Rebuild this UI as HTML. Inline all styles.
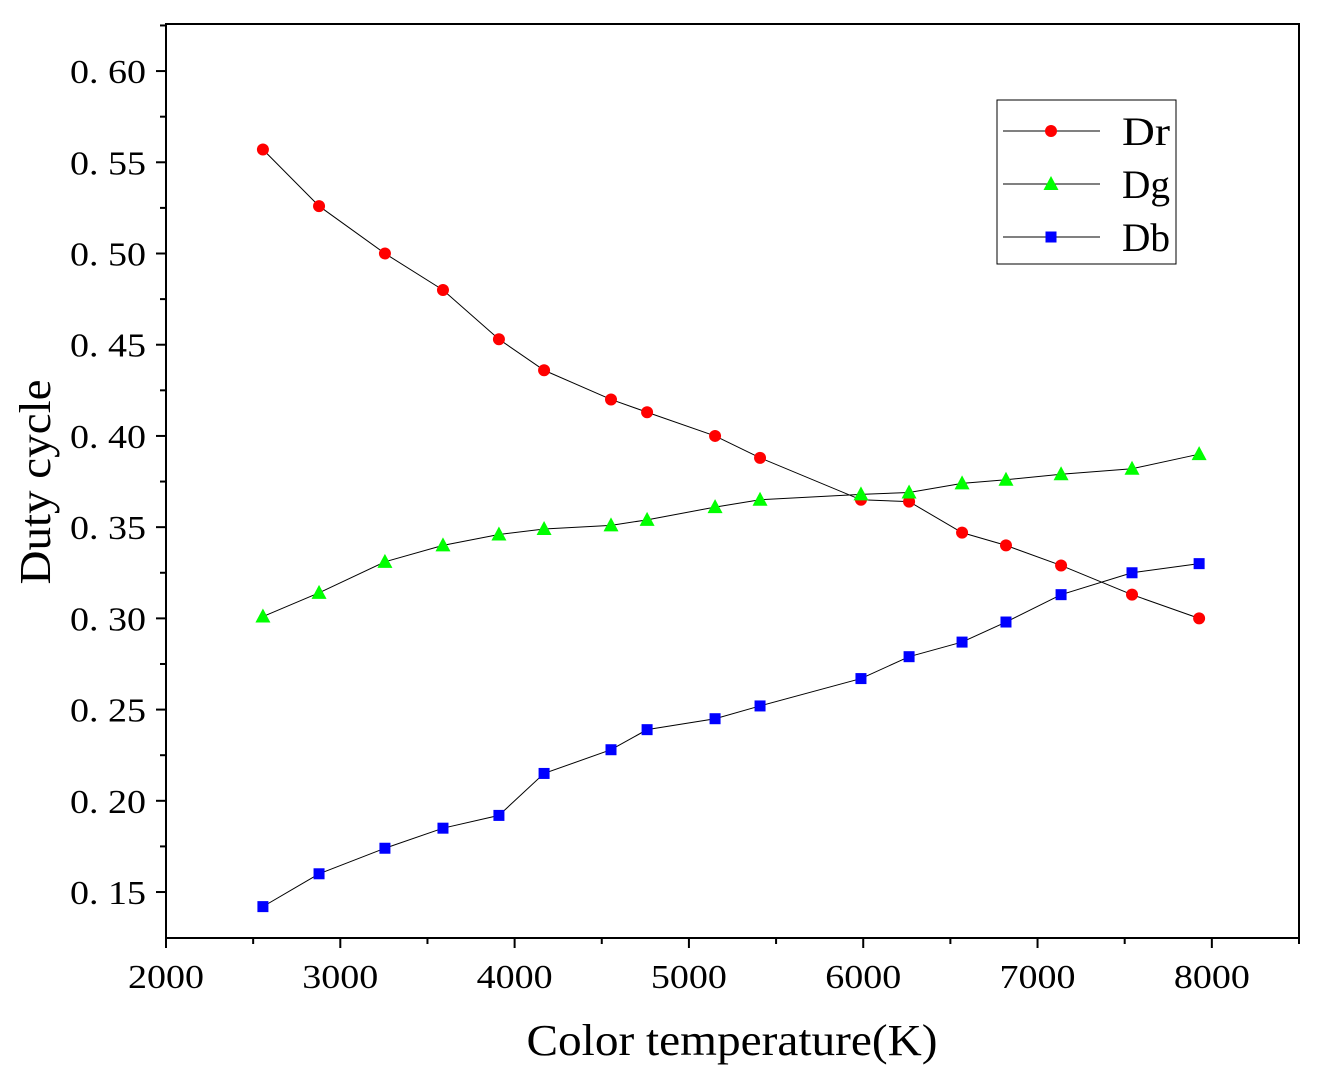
<!DOCTYPE html>
<html><head><meta charset="utf-8"><style>
body{margin:0;background:#fff}
svg{display:block;font-family:"Liberation Serif","Noto Serif CJK SC",serif}
</style></head><body>
<svg id="chart" width="1325" height="1076"></svg>
<script>
const temps=[2556,2878,3256,3589,3910,4169,4553,4760,5150,5408,5987,6263,6567,6819,7135,7542,7927];
const dr=[0.557,0.526,0.500,0.480,0.453,0.436,0.420,0.413,0.400,0.388,0.365,0.364,0.347,0.340,0.329,0.313,0.300];
const dg=[0.301,0.314,0.331,0.340,0.346,0.349,0.351,0.354,0.361,0.365,0.368,0.369,0.374,0.376,0.379,0.382,0.390];
const db=[0.142,0.160,0.174,0.185,0.192,0.215,0.228,0.239,0.245,0.252,0.267,0.279,0.287,0.298,0.313,0.325,0.330];
const xTicks=[2000,3000,4000,5000,6000,7000,8000];
const yTicks=[0.15,0.20,0.25,0.30,0.35,0.40,0.45,0.50,0.55,0.60];
const NS="http://www.w3.org/2000/svg";
const svg=document.getElementById('chart');
const L=166,R=1299,T=24,B=938;
const X=v=>L+(v-2000)/6500*(R-L);
const Y=v=>B-(v-0.1248)/(0.6258-0.1248)*(B-T);
function mk(t,a,p){const e=document.createElementNS(NS,t);for(const k in a)e.setAttribute(k,a[k]);(p||svg).appendChild(e);return e;}
const frame=mk('rect',{x:L,y:T,width:R-L,height:B-T,fill:'none',stroke:'#000','stroke-width':2});


for(let v=2000;v<=8500;v+=500){const maj=v%1000===0;mk('line',{x1:X(v),x2:X(v),y1:B,y2:B+(maj?10:6),stroke:'#000','stroke-width':2});}
for(let i=0;i<=20;i++){const v=0.15+i*0.025;if(Y(v)<T)break;const maj=i%2===0;mk('line',{x1:L,x2:L-(maj?10:6),y1:Y(v),y2:Y(v),stroke:'#000','stroke-width':2});}
xTicks.forEach(v=>{const t=mk('text',{x:X(v),y:B+50,'font-size':34,'text-anchor':'middle',textLength:76,lengthAdjust:'spacingAndGlyphs'});t.textContent=v;

});
yTicks.forEach(v=>{const t=mk('text',{x:146,y:Y(v)+12,'font-size':34,'text-anchor':'end',textLength:76,lengthAdjust:'spacingAndGlyphs'});t.textContent=v.toFixed(2).replace('.','. ');

});
const xt=mk('text',{x:732,y:1055,'font-size':44,'text-anchor':'middle',textLength:411,lengthAdjust:'spacingAndGlyphs'});xt.textContent='Color temperature(K)';


const yt=mk('text',{x:50,y:482,'font-size':44,'text-anchor':'middle',textLength:205,lengthAdjust:'spacingAndGlyphs',transform:'rotate(-90 50 482)'});yt.textContent='Duty cycle';


function marker(type,cx,cy,color,g){
 if(type==='c')return mk('circle',{cx,cy,r:6,fill:color},g);
 if(type==='t')return mk('polygon',{points:`${cx},${cy-8} ${cx-7.5},${cy+6} ${cx+7.5},${cy+6}`,fill:color},g);
 return mk('rect',{x:cx-5.5,y:cy-5.5,width:11,height:11,fill:color},g);
}
const series=[[dr,'#ff0000','c','Dr'],[dg,'#00ff00','t','Dg'],[db,'#0000ff','s','Db']];
series.forEach(([d,c,m,n],si)=>{
 const g=mk('g',{});
 
 
 mk('polyline',{points:temps.map((t,i)=>X(t)+','+Y(d[i])).join(' '),fill:'none',stroke:'#000','stroke-width':1},g);
 temps.forEach((t,i)=>{const p=marker(m,X(t),Y(d[i]),c,g);
 
 });
});
const lg=mk('g',{});


mk('rect',{x:997,y:100,width:179,height:164,fill:'#fff',stroke:'#000','stroke-width':1},lg);
series.forEach(([d,c,m,n],i)=>{const y=131+i*53;
 mk('line',{x1:1003,x2:1100,y1:y,y2:y,stroke:'#000','stroke-width':1},lg);
 marker(m,1051,y,c,lg);
 const t=mk('text',{x:1122,y:y+14,'font-size':40,textLength:48,lengthAdjust:'spacingAndGlyphs'},lg);t.textContent=n;
 
 
});
</script>
</body></html>
